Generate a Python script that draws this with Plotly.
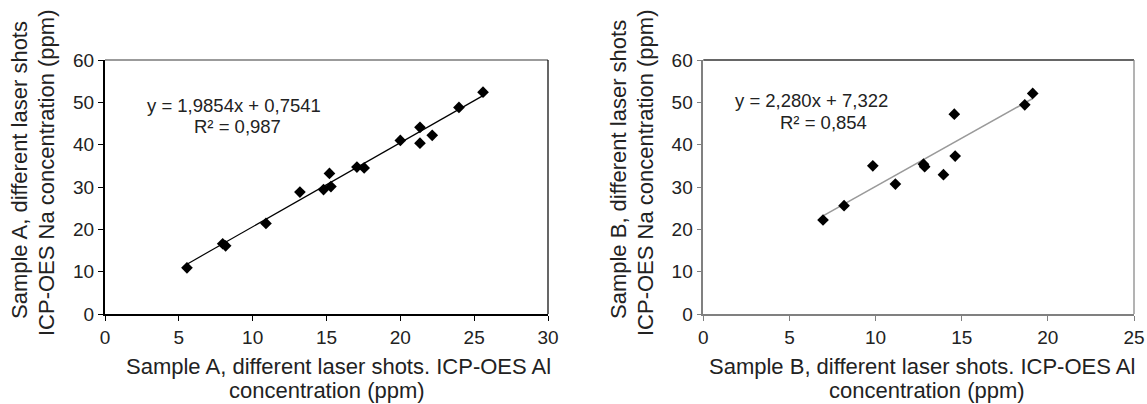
import plotly.graph_objects as go

# ---- data ----
a_al = [5.55, 7.97, 8.17, 10.9, 13.2, 14.8, 15.3, 15.2, 17.06, 17.55, 20.0, 21.33, 21.33, 22.16, 23.97, 25.6]
a_na = [10.9, 16.6, 16.1, 21.4, 28.8, 29.4, 30.1, 33.2, 34.7, 34.5, 41.0, 44.1, 40.35, 42.2, 48.8, 52.4]
a_slope, a_icpt = 1.9854, 0.7541

b_al = [6.95, 8.17, 9.84, 11.15, 12.78, 12.85, 13.94, 14.57, 14.62, 18.66, 19.12]
b_na = [22.2, 25.6, 35.0, 30.7, 35.4, 34.8, 32.9, 47.2, 37.3, 49.4, 52.1]
b_slope, b_icpt = 2.280, 7.322

a_eq = ["y = 1,9854x + 0,7541", "R² = 0,987"]
b_eq = ["y = 2,280x + 7,322", "R² = 0,854"]
a_xtitle = ["Sample A, different laser shots. ICP-OES Al", "concentration (ppm)"]
a_ytitle = ["Sample A, different laser shots", "ICP-OES Na concentration (ppm)"]
b_xtitle = ["Sample B, different laser shots. ICP-OES Al", "concentration (ppm)"]
b_ytitle = ["Sample B, different laser shots", "ICP-OES Na concentration (ppm)"]
a_xticks = [0, 5, 10, 15, 20, 25, 30]
b_xticks = [0, 5, 10, 15, 20, 25]
y_ticks = [0, 10, 20, 30, 40, 50, 60]

W, H = 1147, 404
FONT = "Liberation Sans, Arial, Helvetica, sans-serif"
TXT = "#222222"

def px(x):
    return x / W

def py(y):
    return 1 - y / H

fig = go.Figure()

ax0, ax1 = min(a_al), max(a_al)
fig.add_trace(go.Scatter(x=[ax0, ax1], y=[a_slope * ax0 + a_icpt, a_slope * ax1 + a_icpt],
                         mode="lines", line=dict(color="black", width=1.2),
                         xaxis="x", yaxis="y", showlegend=False, hoverinfo="skip"))
fig.add_trace(go.Scatter(x=a_al, y=a_na, mode="markers",
                         marker=dict(symbol="diamond", size=9, color="black"),
                         xaxis="x", yaxis="y", showlegend=False))

bx0, bx1 = min(b_al), max(b_al)
fig.add_trace(go.Scatter(x=[bx0, bx1], y=[b_slope * bx0 + b_icpt, b_slope * bx1 + b_icpt],
                         mode="lines", line=dict(color="#9a9a9a", width=1.6),
                         xaxis="x2", yaxis="y2", showlegend=False, hoverinfo="skip"))
fig.add_trace(go.Scatter(x=b_al, y=b_na, mode="markers",
                         marker=dict(symbol="diamond", size=9, color="black"),
                         xaxis="x2", yaxis="y2", showlegend=False))

A_L, A_R = 105, 548
B_L, B_R = 703.3, 1134
TOP, BOT = 60, 314

tickfont = dict(family=FONT, size=19, color=TXT)

def xaxis(dom, rng, ticks, color, width):
    return dict(domain=dom, range=rng, tickvals=ticks, showgrid=False, zeroline=False,
                showline=True, linecolor=color, linewidth=width, ticks="outside",
                ticklen=5, tickcolor=color, tickwidth=1, tickfont=tickfont, mirror=False,
                fixedrange=True, automargin=False, ticklabeloverflow="allow")

def yaxis(anchor, color, width):
    return dict(domain=[py(BOT), py(TOP)], range=[0, 60], tickvals=y_ticks, showgrid=False,
                zeroline=False, showline=True, linecolor=color, linewidth=width,
                ticks="outside", ticklen=5, tickcolor=color, tickwidth=1, tickfont=tickfont,
                anchor=anchor, fixedrange=True, automargin=False)

fig.update_layout(
    width=W, height=H,
    margin=dict(l=0, r=0, t=0, b=0, pad=0),
    paper_bgcolor="white", plot_bgcolor="white",
    font=dict(family=FONT, color=TXT),
    xaxis=dict(**xaxis([px(A_L), px(A_R)], [0, 30], a_xticks, "black", 2), anchor="y"),
    yaxis=yaxis("x", "black", 2),
    xaxis2=dict(**xaxis([px(B_L), px(B_R)], [0, 25], b_xticks, "#808080", 1.5), anchor="y2"),
    yaxis2=yaxis("x2", "#808080", 1.5),
)

shapes = [
    dict(type="line", xref="paper", yref="paper", x0=px(A_L), x1=px(A_R), y0=py(TOP), y1=py(TOP),
         line=dict(color="#7a7a7a", width=1.5)),
    dict(type="line", xref="paper", yref="paper", x0=px(A_R), x1=px(A_R), y0=py(TOP), y1=py(BOT),
         line=dict(color="black", width=1.2)),
    dict(type="line", xref="paper", yref="paper", x0=px(B_L), x1=px(B_R), y0=py(TOP), y1=py(TOP),
         line=dict(color="#333333", width=1.3)),
    dict(type="line", xref="paper", yref="paper", x0=px(B_R), x1=px(B_R), y0=py(TOP), y1=py(BOT),
         line=dict(color="#808080", width=1.2)),
]
fig.update_layout(shapes=shapes)

anns = []
def ann(text, x, y, size=19, angle=0):
    anns.append(dict(text=text, x=px(x), y=py(y), xref="paper", yref="paper",
                     showarrow=False, xanchor="center", yanchor="middle", textangle=angle,
                     font=dict(family=FONT, size=size, color=TXT)))

ann(a_eq[0], 234, 105, size=18.5)
ann(a_eq[1], 237, 126, size=18.5)
ann(b_eq[0], 811, 100, size=18.5)
ann(b_eq[1], 823, 122, size=18.5)

ann(a_xtitle[0], 338, 366, size=22)
ann(a_xtitle[1], 327, 390, size=22)
ann(b_xtitle[0], 922, 366, size=22)
ann(b_xtitle[1], 927, 390, size=22)

ann(a_ytitle[0], 20, 170, size=22, angle=-90)
ann(a_ytitle[1], 47, 173, size=22, angle=-90)
ann(b_ytitle[0], 619, 170, size=22, angle=-90)
ann(b_ytitle[1], 646, 173, size=22, angle=-90)

fig.update_layout(annotations=anns)

# remove the browser's default 8px body margin so the figure sits at the page origin
fig.write_html("out.html", config={"displayModeBar": False},
               post_script="document.body.style.margin='0';document.body.style.overflow='hidden';")
